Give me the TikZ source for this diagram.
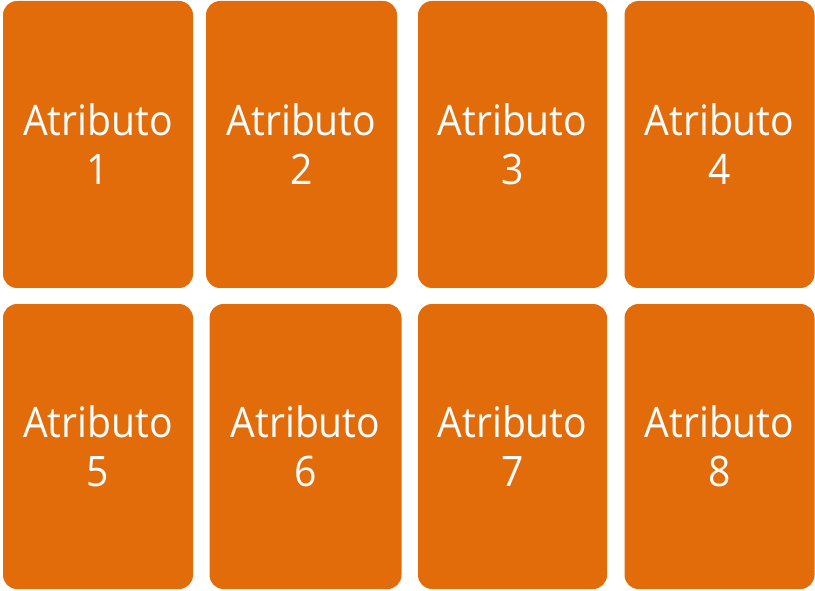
\documentclass[tikz,border=0pt]{standalone}
\usepackage{fontspec}
\usepackage{xcolor}
\usepackage{tikz}
\usetikzlibrary{positioning}
\newfontfamily\attfont[FakeStretch=0.93]{Open Sans}
\definecolor{orangex}{HTML}{E36C0A}
\tikzset{
  attbox/.style={fill=orangex,rounded corners=14pt,inner sep=0pt,outer sep=0pt,
    align=center,text=white,font=\attfont\fontsize{42}{49}\selectfont}
}
\begin{document}
\begin{tikzpicture}[x=1pt,y=-1pt]
\useasboundingbox (0,0) rectangle (815,591);
% primera fila
\node[attbox,minimum width=190pt,minimum height=287pt] (at1) at (98,144.5) {Atributo\\1};
\node[attbox,minimum width=191pt,minimum height=287pt] (at2) at (301.5,144.5) {Atributo\\2};
\node[attbox,minimum width=189pt,minimum height=287pt] (at3) at (512.5,144.5) {Atributo\\3};
\node[attbox,minimum width=190pt,minimum height=287pt] (at4) at (719.5,144.5) {Atributo\\4};
% segunda fila
\node[attbox,minimum width=190pt,minimum height=285pt] (at5) at (98,446.5) {Atributo\\5};
\node[attbox,minimum width=192pt,minimum height=285pt] (at6) at (305.5,446.5) {Atributo\\6};
\node[attbox,minimum width=189pt,minimum height=285pt] (at7) at (512.5,446.5) {Atributo\\7};
\node[attbox,minimum width=190pt,minimum height=285pt] (at8) at (719.5,446.5) {Atributo\\8};
\end{tikzpicture}
\end{document}
